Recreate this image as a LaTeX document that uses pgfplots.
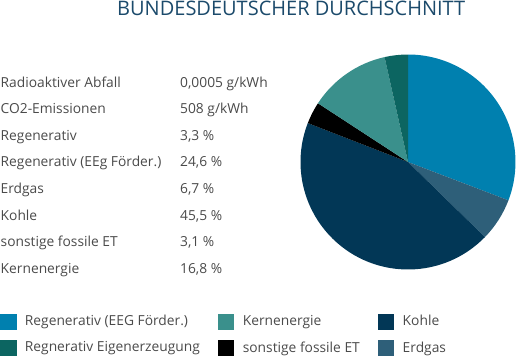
\documentclass[border=0pt]{standalone}
\usepackage{pgfplots}
\usepackage{pgfplotstable}
\pgfplotsset{compat=1.18}
\usepackage{fontspec}
\setmainfont{Open Sans}
\definecolor{cEEG}{HTML}{0080AF}
\definecolor{cGas}{HTML}{2E5F79}
\definecolor{cKohle}{HTML}{023756}
\definecolor{cFoss}{HTML}{000000}
\definecolor{cKern}{HTML}{3A908C}
\definecolor{cEigen}{HTML}{0C6561}
\definecolor{textgray}{HTML}{4A4A4A}
\definecolor{titleblue}{HTML}{1B4A6B}

% pie shares (percent), clockwise from 12 o'clock
\pgfplotstableread{
share col
30.8 cEEG
6.5 cGas
43.6 cKohle
3.3 cFoss
12.3 cKern
3.5 cEigen
}\piedata

\begin{document}
\begin{tikzpicture}[x=1pt,y=1pt]
\useasboundingbox (0,0) rectangle (516,357);
\node[anchor=base west, inner sep=0pt, text=titleblue, font=\fontsize{20}{24}\selectfont] at (117,341) {BUNDESDEUTSCHER DURCHSCHNITT};

\begin{scope}[every node/.style={anchor=base west, inner sep=0pt, text=textgray, font=\fontsize{13.8}{16}\selectfont}]
\node at (0.5,270.0) {Radioaktiver Abfall}; \node at (180,270.0) {0,0005 g/kWh};
\node at (0.5,243.4) {CO2-Emissionen};      \node at (180,243.4) {508 g/kWh};
\node at (0.5,216.8) {Regenerativ};         \node at (180,216.8) {3,3 \%};
\node at (0.5,190.2) {Regenerativ (EEg Förder.)}; \node at (180,190.2) {24,6 \%};
\node at (0.5,163.6) {Erdgas};              \node at (180,163.6) {6,7 \%};
\node at (0.5,137.0) {Kohle};               \node at (180,137.0) {45,5 \%};
\node at (0.5,110.4) {sonstige fossile ET}; \node at (180,110.4) {3,1 \%};
\node at (0.5,83.8)  {Kernenergie};         \node at (180,83.8)  {16,8 \%};
\end{scope}

\begin{axis}[
  at={(408pt,195pt)}, anchor=origin,
  x=107.5pt, y=107.5pt,
  xmin=-1, xmax=1, ymin=-1, ymax=1,
  hide axis, clip=false,
  legend columns=3,
  legend cell align=left,
  legend image code/.code={\fill[#1] (0pt,-7.5pt) rectangle (15.5pt,7.5pt);},
  legend style={
    at={(axis cs:-3.795,-1.41)}, anchor=north west,
    draw=none, fill=none, inner sep=0pt, outer sep=0pt,
    font=\fontsize{13.8}{16}\selectfont, text=textgray,
    row sep=11pt,
    column sep=9pt,
    /tikz/every even column/.append style={column sep=18pt},
    nodes={inner sep=0pt, outer sep=0pt},
  },
]
\pgfplotstablegetrowsof{\piedata}
\pgfmathtruncatemacro\nrows{\pgfplotsretval-1}
\def\cum{0}
\pgfplotsforeachungrouped \i in {0,...,\nrows}{%
  \pgfplotstablegetelem{\i}{share}\of\piedata \let\val\pgfplotsretval
  \pgfplotstablegetelem{\i}{col}\of\piedata \let\col\pgfplotsretval
  \pgfmathsetmacro\sa{90-3.6*\cum}%
  \pgfmathsetmacro\ea{90-3.6*(\cum+\val)}%
  \pgfmathsetmacro\cum{\cum+\val}%
  \edef\temp{\noexpand\fill[\col] (axis cs:0,0) -- (axis cs:{cos(\sa)},{sin(\sa)}) arc[start angle=\sa, end angle=\ea, radius=107.5pt] -- cycle;}%
  \temp
}
\addlegendimage{cEEG}\addlegendentry{Regenerativ (EEG Förder.)}
\addlegendimage{cKern}\addlegendentry{Kernenergie}
\addlegendimage{cKohle}\addlegendentry{Kohle}
\addlegendimage{cEigen}\addlegendentry{Regnerativ Eigenerzeugung}
\addlegendimage{cFoss}\addlegendentry{sonstige fossile ET}
\addlegendimage{cGas}\addlegendentry{Erdgas}
\end{axis}
\end{tikzpicture}
\end{document}
